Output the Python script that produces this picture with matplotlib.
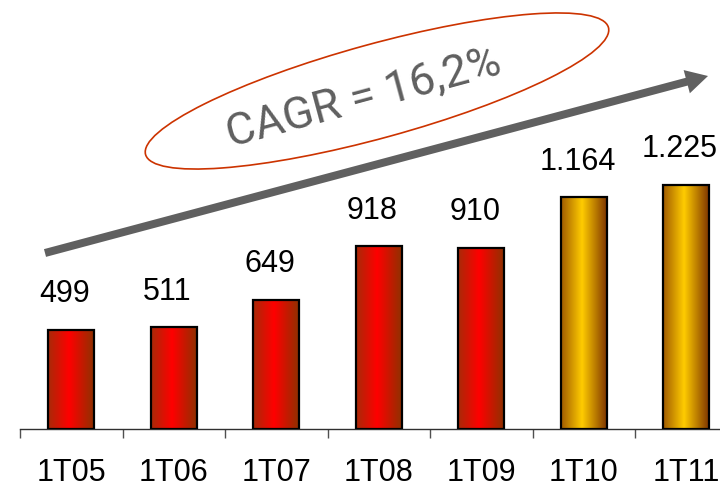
import numpy as np
import matplotlib.pyplot as plt
from matplotlib.colors import LinearSegmentedColormap
from matplotlib.patches import Rectangle, Ellipse, FancyArrow

plt.rcParams['font.family'] = ['Liberation Sans', 'DejaVu Sans']

# quarterly figures
periods = ['1T05', '1T06', '1T07', '1T08', '1T09', '1T10', '1T11']
revenue = [499, 511, 649, 918, 910, 1164, 1225]
tone = ['red', 'red', 'red', 'red', 'red', 'gold', 'gold']
cagr_label = 'CAGR = 16,2%'

# horizontal shading: dark edges, bright band slightly left of centre
shades = {
    'red': LinearSegmentedColormap.from_list(
        'red_bar', [(0, '#a82a08'), (0.45, '#ff0000'), (1, '#8a3300')]),
    'gold': LinearSegmentedColormap.from_list(
        'gold_bar', [(0, '#a05a00'), (0.45, '#ffcc00'), (1, '#7a3000')]),
}

W, H = 720, 488
fig = plt.figure(figsize=(W / 100, H / 100), dpi=100)
ax = fig.add_axes([20 / W, 59 / H, 717.5 / W, 298.5 / H])

bar_w = 0.45
ramp = np.linspace(0, 1, 256).reshape(1, -1)
for i, (v, t) in enumerate(zip(revenue, tone)):
    rect = Rectangle((i - bar_w / 2, 0), bar_w, v, facecolor='none',
                     edgecolor='black', lw=1.6, zorder=3)
    ax.add_patch(rect)
    img = ax.imshow(ramp, cmap=shades[t], aspect='auto', zorder=2,
                    extent=(i - bar_w / 2, i + bar_w / 2, 0, v))
    img.set_clip_path(rect)
    label = f'{v:,}'.replace(',', '.')
    ax.annotate(label, (i, v), xytext=(-4.5, 20), textcoords='offset points',
                ha='center', va='baseline', fontsize=22)

ax.set_xlim(-0.5, 6.5)
ax.set_ylim(0, 1500)

# category labels in the middle, tick marks on the boundaries
ax.set_xticks(range(len(periods)))
ax.set_xticklabels(periods, fontsize=22)
ax.tick_params(axis='x', which='major', length=0, pad=21)
ax.set_xticks(np.arange(-0.5, len(periods), 1), minor=True)
ax.tick_params(axis='x', which='minor', length=6.5, width=1, color='#505050')
ax.set_yticks([])
for side in ('left', 'top', 'right'):
    ax.spines[side].set_visible(False)
ax.spines['bottom'].set_color('#303030')
ax.spines['bottom'].set_linewidth(1)

# growth arrow and CAGR callout, drawn in pixel space
over = fig.add_axes([0, 0, 1, 1])
over.set_xlim(0, W)
over.set_ylim(H, 0)
over.axis('off')
over.add_patch(FancyArrow(45, 253, 663, -177, width=8, head_width=24,
                          head_length=22, length_includes_head=True,
                          color='#606060', lw=0))
over.add_patch(Ellipse((377, 91), 480, 94, angle=-15.35, fill=False,
                       edgecolor='#cc3300', lw=1.2))
over.text(367, 110, cagr_label, rotation=15.1, rotation_mode='anchor',
          ha='center', va='baseline', fontsize=32.5, color='#5f5f5f',
          family=['Roboto', 'DejaVu Sans'])

fig.savefig('out.png', dpi=100)
